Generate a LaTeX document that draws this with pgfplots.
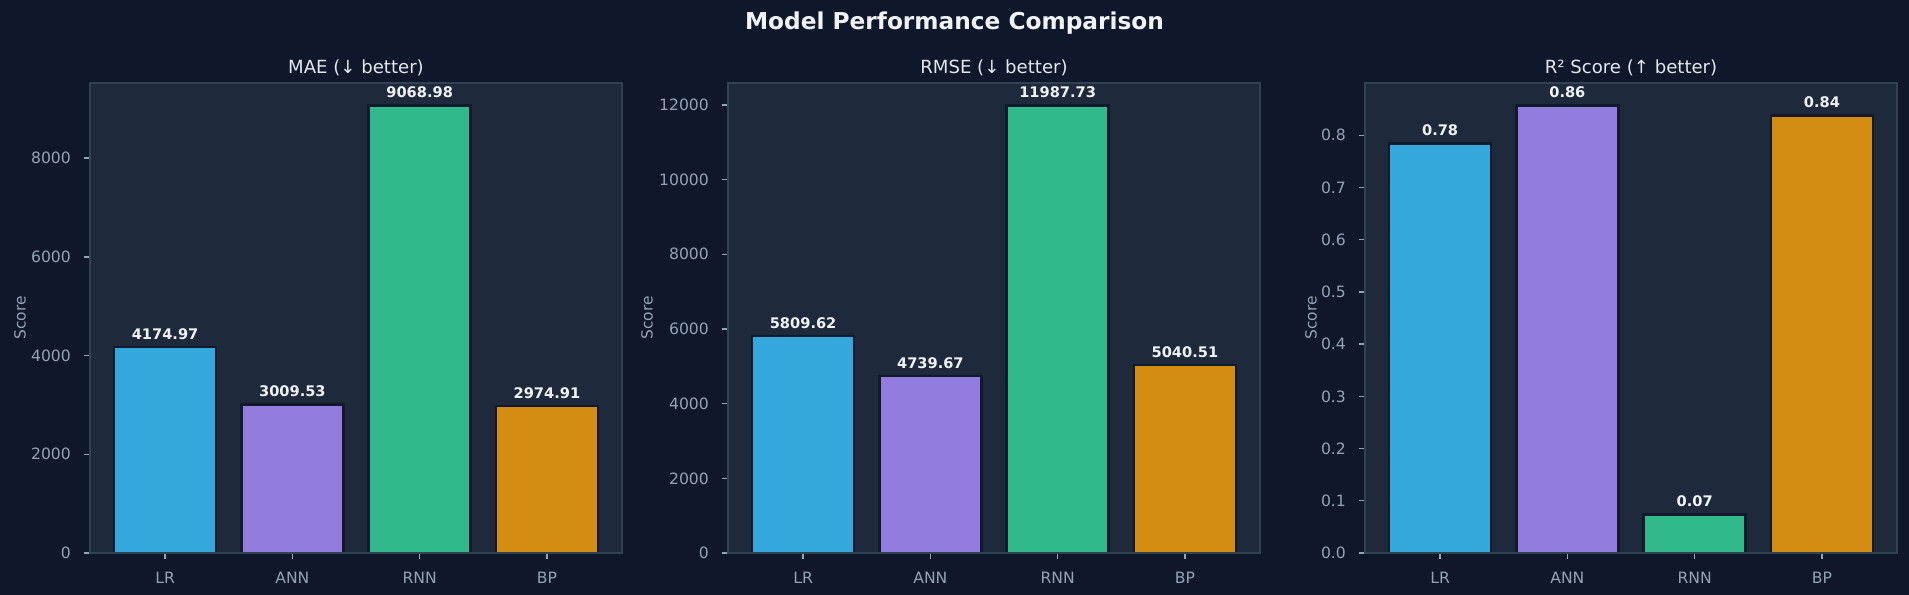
\documentclass[border=0pt]{standalone}
\usepackage{fontspec}
\setmainfont{DejaVu Sans}
\usepackage{pgfplots}
\pgfplotsset{compat=1.18}

\definecolor{figbg}{RGB}{15,23,42}
\definecolor{axbg}{RGB}{30,41,59}
\definecolor{spine}{RGB}{51,65,85}
\definecolor{tickc}{RGB}{148,163,184}
\definecolor{titlec}{RGB}{241,245,249}
\definecolor{subc}{RGB}{226,232,240}
\definecolor{edgec}{RGB}{17,26,45}
\definecolor{cLR}{RGB}{52,167,220}
\definecolor{cANN}{RGB}{146,124,221}
\definecolor{cRNN}{RGB}{49,185,139}
\definecolor{cBP}{RGB}{213,140,18}

% one panel = 532 x 470 px, 1 px = 0.6 bp
\pgfplotsset{
  panel/.style={
    scale only axis, width=319.2bp, height=282bp, anchor=south west,
    xmin=-0.59, xmax=3.59, ymin=0,
    axis background/.style={fill=axbg},
    axis line style={draw=spine, line width=0.8bp},
    axis on top,
    xtick={0,1,2,3}, xticklabels={LR,ANN,RNN,BP},
    tick align=outside, tick pos=left,
    major tick length=3.5bp,
    every tick/.style={draw=tickc, line width=0.8bp},
    tick label style={font=\fontsize{9.4}{11}\selectfont, text=tickc, inner sep=0pt},
    xticklabel style={anchor=north, yshift=-7.8bp},
    yticklabel style={anchor=east, xshift=-7.8bp},
    /pgf/number format/assume math mode=true,
    /pgf/number format/1000 sep={},
    scaled y ticks=false,
    title style={at={(axis description cs:0.5,1)}, anchor=base,
      font=\fontsize{10.9}{13}\selectfont, text=subc},
    ylabel=Score,
    ylabel style={anchor=center, font=\fontsize{9.3}{11}\selectfont, text=tickc},
    ybar, bar width=0.8, bar shift=0pt,
    point meta=explicit symbolic,
    nodes near coords,
    nodes near coords style={anchor=base, yshift=4.6bp, inner sep=0pt,
      font=\bfseries\fontsize{8.8}{10}\selectfont, text=titlec},
    every axis plot/.append style={draw=edgec, line width=1.5bp},
  }
}

\begin{document}
\begin{tikzpicture}
\fill[figbg] (0,0) rectangle (1145.4bp,357bp);
\node[anchor=base, font=\bfseries\fontsize{14}{16}\selectfont, text=titlec]
  at (572.7bp,339bp) {Model Performance Comparison};

% MAE
\begin{axis}[panel, at={(54bp,25.2bp)},
  ymax=9522.4, ytick={0,2000,4000,6000,8000},
  title={MAE (↓ better)},
  ylabel style={at={(axis description cs:-0.1316,0.5)}}]
\addplot[fill=cLR]  coordinates {(0,4174.97) [4174.97]};
\addplot[fill=cANN] coordinates {(1,3009.53) [3009.53]};
\addplot[fill=cRNN] coordinates {(2,9068.98) [9068.98]};
\addplot[fill=cBP]  coordinates {(3,2974.91) [2974.91]};
\end{axis}

% RMSE
\begin{axis}[panel, at={(436.8bp,25.2bp)},
  ymax=12587.1, ytick={0,2000,4000,6000,8000,10000,12000},
  title={RMSE (↓ better)},
  ylabel style={at={(axis description cs:-0.1523,0.5)}}]
\addplot[fill=cLR]  coordinates {(0,5809.62) [5809.62]};
\addplot[fill=cANN] coordinates {(1,4739.67) [4739.67]};
\addplot[fill=cRNN] coordinates {(2,11987.73) [11987.73]};
\addplot[fill=cBP]  coordinates {(3,5040.51) [5040.51]};
\end{axis}

% R2
\begin{axis}[panel, at={(819bp,25.2bp)},
  ymax=0.9,
  ytick={0,0.1,0.2,0.3,0.4,0.5,0.6,0.7,0.8},
  yticklabel style={/pgf/number format/fixed, /pgf/number format/fixed zerofill,
    /pgf/number format/precision=1},
  title={R² Score (↑ better)},
  ylabel style={at={(axis description cs:-0.1015,0.5)}}]
\addplot[fill=cLR]  coordinates {(0,0.784) [0.78]};
\addplot[fill=cANN] coordinates {(1,0.857) [0.86]};
\addplot[fill=cRNN] coordinates {(2,0.0735) [0.07]};
\addplot[fill=cBP]  coordinates {(3,0.838) [0.84]};
\end{axis}

\pgfresetboundingbox
\path[use as bounding box] (0,0) rectangle (1145.4bp,357bp);
\end{tikzpicture}
\end{document}
